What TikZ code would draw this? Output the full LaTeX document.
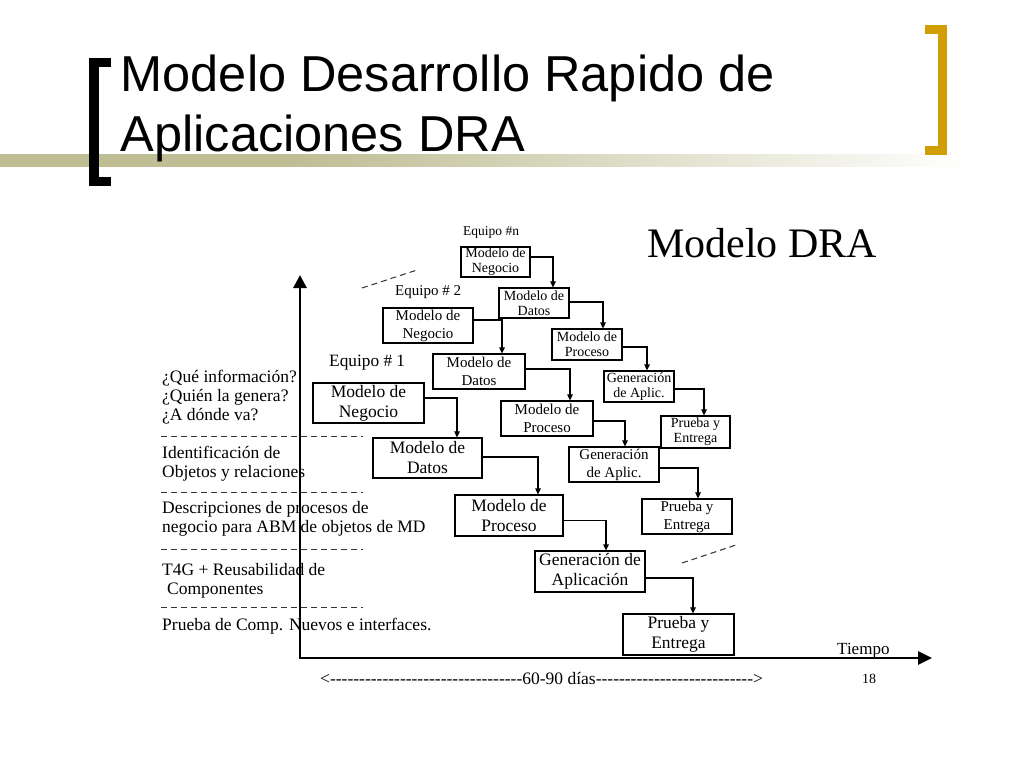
\documentclass[tikz,border=0pt]{standalone}
\usepackage{fontspec}
\setmainfont{Liberation Serif}
\newfontfamily\titlefont{Liberation Sans}
\newfontfamily\nolig[Ligatures=TeXOff]{Liberation Serif}
\usetikzlibrary{arrows.meta}
\definecolor{olivebar}{RGB}{190,189,148}
\definecolor{goldbr}{RGB}{209,158,6}
\pgfdeclarehorizontalshading{barshade}{100bp}{color(0bp)=(olivebar); color(25bp)=(olivebar); color(40bp)=(olivebar); color(56bp)=(olivebar!55); color(75bp)=(white); color(100bp)=(white)}
\begin{document}
\begin{tikzpicture}[x=1pt,y=-1pt,
  box/.style={draw=black, line width=1.2pt, inner sep=0pt, align=center, fill=white},
  boxA/.style={box, font=\fontsize{17.5}{20}\selectfont},
  boxB/.style={box, font=\fontsize{15}{18}\selectfont},
  boxC/.style={box, font=\fontsize{14}{15}\selectfont},
  conn/.style={line width=1.1pt, -{Triangle[length=6pt,width=5.5pt]}},
  axis/.style={line width=2.8pt},
  sep/.style={line width=1pt, draw=black!80, dash pattern=on 6pt off 4pt},
  lab/.style={anchor=base west, inner sep=0pt, font=\fontsize{17.5}{20}\selectfont},
  titletext/.style={anchor=base west, inner sep=0pt, font=\titlefont\fontsize{50.5}{58}\selectfont}
]
\useasboundingbox (0,0) rectangle (1024,768);
\fill[white] (0,0) rectangle (1024,768);

% header decoration
\shade[shading=barshade] (0,154) rectangle (970,166);
\fill[black] (89,58) rectangle (111,67);
\fill[black] (89,58) rectangle (99,186);
\fill[black] (89,177) rectangle (111,186);
\fill[goldbr] (925,25) rectangle (947,34);
\fill[goldbr] (938,25) rectangle (947,155);
\fill[goldbr] (925,146) rectangle (947,155);

\node[titletext] (t1) at (120.5,91.5) {Modelo Desarrollo Rapido de};
\node[titletext] (t2) at (120.5,151.5) {Aplicaciones DRA};

% diagram title
\node[anchor=base west, inner sep=0pt, font=\fontsize{42}{46}\selectfont] (dra) at (647,257) {Modelo DRA};

% left labels
\node[lab] (l1) at (162,382) {¿Qué información?};
\node[lab] (l2) at (162,401) {¿Quién la genera?};
\node[lab] (l3) at (162,420) {¿A dónde va?};
\node[lab] (l4) at (162,458) {Identificación de};
\node[lab] (l5) at (162,477) {Objetos y relaciones};
\node[lab] (l6) at (162,513) {Descripciones de procesos de};
\node[lab] (l7) at (162,532) {negocio para ABM de objetos de MD};
\node[lab] (l8) at (162,575) {T4G + Reusabilidad de};
\node[lab] (l9) at (167,594) {Componentes};
\node[lab] (l10) at (162,630) {Prueba de Comp. Nuevos e interfaces.};

\coordinate (s1a) at (161,436); \coordinate (s1b) at (363,436);
\coordinate (s2a) at (161,492); \coordinate (s2b) at (363,492);
\coordinate (s3a) at (161,549); \coordinate (s3b) at (363,549);
\coordinate (s4a) at (161,607); \coordinate (s4b) at (363,607);
\draw[sep] (s1a) -- (s1b);
\draw[sep] (s2a) -- (s2b);
\draw[sep] (s3a) -- (s3b);
\draw[sep] (s4a) -- (s4b);

% diagonal dashes
\coordinate (d1a) at (362,288); \coordinate (d1b) at (417,270);
\coordinate (d2a) at (682,563); \coordinate (d2b) at (736,545);
\draw[sep] (d1a) -- (d1b);
\draw[sep] (d2a) -- (d2b);

% team labels
\node[anchor=base west, inner sep=0pt, font=\fontsize{13.5}{15}\selectfont] (en) at (463,235) {Equipo \#n};
\node[anchor=base west, inner sep=0pt, font=\fontsize{15}{17}\selectfont] (e2) at (395,295) {Equipo \# 2};
\node[anchor=base west, inner sep=0pt, font=\fontsize{17.3}{19}\selectfont] (e1) at (329,366) {Equipo \# 1};

% team n
\node[boxC, minimum width=69pt, minimum height=30pt] (Nn) at (495.5,262) {Modelo de\\Negocio};
\node[boxC, minimum width=70pt, minimum height=30pt] (Dn) at (534,303) {Modelo de\\Datos};
\node[boxC, minimum width=70pt, minimum height=31pt] (Pn) at (587,344.5) {Modelo de\\Proceso};
\node[boxC, minimum width=70pt, minimum height=31pt] (Gn) at (639,386.5) {Generación\\de Aplic.};
\node[boxC, minimum width=69pt, minimum height=32pt] (Tn) at (695.5,432) {Prueba y\\Entrega};

% team 2
\node[boxB, minimum width=90pt, minimum height=35pt] (N2) at (428,325.5) {Modelo de\\Negocio};
\node[boxB, minimum width=92pt, minimum height=35pt] (D2) at (479,371.5) {Modelo de\\Datos};
\node[boxB, minimum width=92pt, minimum height=35pt] (P2) at (547,418.5) {Modelo de\\Proceso};
\node[boxB, minimum width=90pt, minimum height=35pt] (G2) at (614,464.5) {Generación\\de Aplic.};
\node[boxB, minimum width=90pt, minimum height=35pt] (T2) at (687,516.5) {Prueba y\\Entrega};

% team 1
\node[boxA, minimum width=111pt, minimum height=40pt] (N1) at (368.5,403) {Modelo de\\Negocio};
\node[boxA, minimum width=109pt, minimum height=40pt] (D1) at (427.5,458) {Modelo de\\Datos};
\node[boxA, minimum width=108pt, minimum height=41pt] (P1) at (509,515.5) {Modelo de\\Proceso};
\node[boxA, minimum width=110pt, minimum height=41pt] (G1) at (590,571.5) {Generación de\\Aplicación};
\node[boxA, minimum width=111pt, minimum height=41pt] (T1) at (678.5,634.5) {Prueba y\\Entrega};

% connectors team n
\draw[conn] ([yshift=5pt]Nn.east) -| ([xshift=19pt]Dn.north);
\draw[conn] ([yshift=1pt]Dn.east) -| ([xshift=16pt]Pn.north);
\draw[conn] ([yshift=-2.5pt]Pn.east) -| ([xshift=8pt]Gn.north);
\draw[conn] ([yshift=-2.5pt]Gn.east) -| ([xshift=8.5pt]Tn.north);
% connectors team 2
\draw[conn] ([yshift=5.5pt]N2.east) -| ([xshift=23pt]D2.north);
\draw[conn] ([yshift=2.5pt]D2.east) -| ([xshift=23pt]P2.north);
\draw[conn] ([yshift=-2.5pt]P2.east) -| ([xshift=11pt]G2.north);
\draw[conn] ([yshift=-3.5pt]G2.east) -| ([xshift=11pt]T2.north);
% connectors team 1
\draw[conn] ([yshift=5pt]N1.east) -| ([xshift=29.5pt]D1.north);
\draw[conn] ([yshift=1pt]D1.east) -| ([xshift=29pt]P1.north);
\draw[conn] ([yshift=-5pt]P1.east) -| ([xshift=16pt]G1.north);
\draw[conn] ([yshift=-6.5pt]G1.east) -| ([xshift=14.5pt]T1.north);

% axes
\coordinate (O) at (300,658);
\coordinate (Ytop) at (300,275);
\coordinate (Xend) at (932,658);
\draw[axis, {Triangle[length=13pt,width=13pt]}-{Triangle[length=14pt,width=13pt]}] (Ytop) -- (O) -- (Xend);

\node[anchor=base west, inner sep=0pt, font=\fontsize{17}{19}\selectfont] (tiempo) at (837,654) {Tiempo};
\node[anchor=base west, inner sep=0pt, font=\fontsize{14}{16}\selectfont] (n18) at (862,683) {18};
\node[anchor=base west, inner sep=0pt, font=\nolig\fontsize{17.5}{19}\selectfont] (dias) at (320,684)
  {<---------------------------------60-90 días--------------------------->};
\end{tikzpicture}
\end{document}
